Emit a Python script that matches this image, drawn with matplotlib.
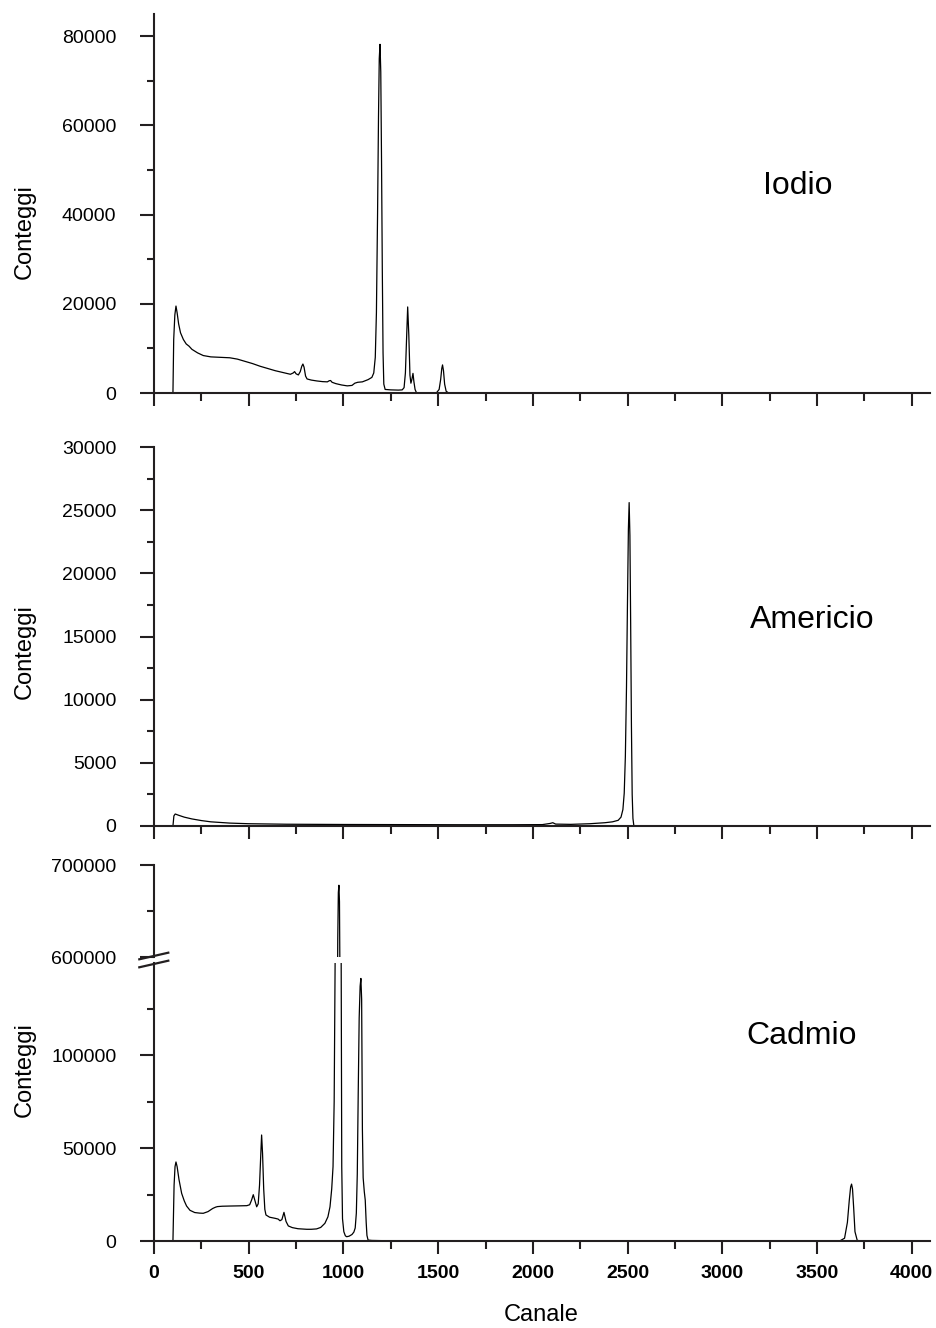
import matplotlib
matplotlib.use("Agg")
import matplotlib.pyplot as plt
from matplotlib.lines import Line2D
from matplotlib.ticker import MultipleLocator, FixedLocator

plt.rcParams['font.family'] = ['Liberation Sans', 'DejaVu Sans']

# --- spectra (channel, counts) ---
iodio_ch = [0, 100, 104, 110, 116, 122, 130, 140, 155, 170,
            185, 200, 230, 260, 300, 350, 400, 440, 480, 520,
            560, 600, 640, 680, 720, 735, 742, 750, 762, 772,
            780, 786, 792, 800, 808, 830, 860, 890, 915, 925,
            932, 940, 960, 990, 1020, 1045, 1060, 1075, 1100, 1130,
            1150, 1160, 1168, 1174, 1180, 1185, 1189, 1193, 1197, 1201,
            1205, 1209, 1213, 1220, 1250, 1290, 1310, 1320, 1327, 1333,
            1339, 1345, 1351, 1356, 1361, 1367, 1372, 1378, 1386, 1400,
            1490, 1505, 1513, 1519, 1523, 1528, 1534, 1542, 1555, 4096]
iodio_counts = [0, 0, 12000, 17500, 19500, 18000, 15500, 13500, 12000, 11000,
                10500, 9800, 9000, 8400, 8100, 8000, 7900, 7600, 7100, 6600,
                6000, 5500, 5000, 4600, 4200, 4500, 4800, 4300, 4050, 4800,
                6000, 6500, 5800, 3800, 3150, 2900, 2700, 2550, 2500, 2750,
                2800, 2400, 2100, 1800, 1600, 1700, 2200, 2400, 2500, 3000,
                3500, 4500, 8000, 18000, 40000, 62000, 75000, 78200, 72000, 52000,
                28000, 9000, 2000, 800, 700, 650, 700, 1200, 4500, 12000,
                19300, 13000, 4000, 2200, 3000, 4400, 2500, 800, 0, 0,
                0, 800, 3000, 5500, 6300, 5000, 2000, 400, 0, 0]

americio_ch = [0, 100, 105, 112, 130, 160, 200, 250, 300, 400,
               500, 700, 1000, 1300, 1600, 1900, 2050, 2090, 2105, 2120,
               2200, 2300, 2380, 2420, 2450, 2465, 2475, 2482, 2488, 2494,
               2499, 2504, 2508, 2512, 2516, 2520, 2524, 2528, 2533, 4096]
americio_counts = [0, 0, 800, 950, 850, 700, 560, 430, 330, 230,
                   180, 140, 120, 110, 100, 100, 110, 200, 260, 150,
                   130, 180, 260, 330, 450, 700, 1300, 2600, 5500, 11000,
                   17500, 23500, 25600, 23000, 16000, 8000, 2500, 600, 0, 0]

cadmio_ch = [0, 100, 106, 111, 116, 122, 132, 146, 160, 172,
             190, 215, 240, 260, 285, 310, 325, 335, 360, 400,
             450, 490, 505, 515, 524, 532, 542, 550, 557, 563,
             568, 573, 579, 585, 591, 610, 639, 655, 665, 675,
             686, 697, 709, 730, 760, 806, 830, 858, 880, 902,
             918, 929, 938, 945, 951, 956, 961, 966, 970, 973,
             976, 979, 982, 985, 988, 991, 995, 1002, 1010, 1017,
             1030, 1045, 1055, 1062, 1068, 1073, 1078, 1083, 1088, 1092,
             1096, 1100, 1104, 1110, 1115, 1120, 1124, 1130, 1150, 1200,
             1400, 1700, 1900, 2000, 3000, 3500, 3620, 3645, 3660, 3670,
             3677, 3682, 3687, 3693, 3700, 3712, 3740, 4096]
cadmio_counts = [0, 0, 30000, 40000, 42500, 40000, 33000, 25600, 21500, 18800,
                 16500, 15300, 15000, 14900, 15800, 17500, 18200, 18500, 18700, 18800,
                 18900, 19000, 19500, 22000, 24900, 22000, 18400, 20000, 30000, 45000,
                 57000, 47000, 28000, 17000, 14000, 12800, 12200, 11800, 10900, 11500,
                 15400, 10500, 8100, 7200, 6600, 6300, 6300, 6500, 7300, 9500,
                 13000, 18400, 28000, 40000, 75000, 150000, 300000, 480000, 620000, 670000,
                 678000, 660000, 560000, 380000, 150000, 40000, 12000, 5000, 2800, 2300,
                 2600, 3500, 4800, 7000, 15000, 36000, 80000, 120000, 137000, 141200,
                 130000, 60000, 34000, 26500, 22000, 10000, 3000, 500, 300, 200,
                 150, 120, 100, 80, 60, 50, 60, 1500, 10000, 22000,
                 29000, 30600, 28000, 18000, 5000, 300, 0, 0]

x_ticks = [0, 500, 1000, 1500, 2000, 2500, 3000, 3500, 4000]

W, H = 936, 1328
fig = plt.figure(figsize=(W / 100, H / 100), dpi=100)

def box(top, bottom):
    # pixel rows -> figure fraction rectangle
    return [154 / W, 1 - bottom / H, 776 / W, (bottom - top) / H]

ink = '#231f20'

def style(ax, show_bottom=True, xlabels=False):
    for s in ['top', 'right']:
        ax.spines[s].set_visible(False)
    ax.spines['left'].set_linewidth(1.5)
    ax.spines['left'].set_color(ink)
    ax.spines['bottom'].set_linewidth(1.5)
    ax.spines['bottom'].set_color(ink)
    ax.set_xlim(0, 4096)
    ax.xaxis.set_major_locator(FixedLocator(x_ticks))
    ax.xaxis.set_minor_locator(MultipleLocator(250))
    ax.tick_params(axis='y', which='major', direction='out', length=10, width=1.5,
                   color=ink, labelsize=14, pad=17)
    ax.tick_params(axis='y', which='minor', direction='out', length=5, width=1.5, color=ink)
    if show_bottom:
        ax.tick_params(axis='x', which='major', direction='out', length=9.5, width=1.5,
                       color=ink, labelsize=14, pad=8, labelbottom=xlabels)
        ax.tick_params(axis='x', which='minor', direction='out', length=5.5, width=1.5, color=ink)
    else:
        ax.spines['bottom'].set_visible(False)
        ax.tick_params(axis='x', which='both', bottom=False, labelbottom=False)
    if xlabels:
        for t in ax.get_xticklabels():
            t.set_fontweight('bold')

# Iodio
ax1 = fig.add_axes(box(14, 393))
ax1.plot(iodio_ch, iodio_counts, color='black', lw=0.9)
ax1.set_ylim(0, 85000)
ax1.yaxis.set_major_locator(FixedLocator([0, 20000, 40000, 60000, 80000]))
ax1.yaxis.set_minor_locator(FixedLocator([10000, 30000, 50000, 70000]))
style(ax1)
ax1.text(798 / W, 1 - 186 / H, 'Iodio', transform=fig.transFigure, fontsize=23,
         ha='center', va='center')

# Americio
ax2 = fig.add_axes(box(447, 826))
ax2.plot(americio_ch, americio_counts, color='black', lw=0.9)
ax2.set_ylim(0, 30000)
ax2.yaxis.set_major_locator(MultipleLocator(5000))
ax2.yaxis.set_minor_locator(MultipleLocator(2500))
style(ax2)
ax2.text(812 / W, 1 - 620 / H, 'Americio', transform=fig.transFigure, fontsize=23,
         ha='center', va='center')

# Cadmio, broken y axis
ax3u = fig.add_axes(box(865, 957))
ax3u.plot(cadmio_ch, cadmio_counts, color='black', lw=0.9)
ax3u.set_ylim(600000, 700000)
ax3u.yaxis.set_major_locator(FixedLocator([600000, 700000]))
ax3u.yaxis.set_minor_locator(FixedLocator([650000]))
style(ax3u, show_bottom=False)

ax3 = fig.add_axes(box(963, 1241))
ax3.plot(cadmio_ch, cadmio_counts, color='black', lw=0.9)
ax3.set_ylim(0, 149500)
ax3.yaxis.set_major_locator(FixedLocator([0, 50000, 100000]))
ax3.yaxis.set_minor_locator(FixedLocator([25000, 75000, 125000]))
style(ax3, xlabels=True)
ax3.text(802 / W, 1 - 1036 / H, 'Cadmio', transform=fig.transFigure, fontsize=23,
         ha='center', va='center')

# break marks on the left spine
for y0 in (959.3, 967.3):
    fig.add_artist(Line2D([139.3 / W, 168.3 / W], [1 - y0 / H, 1 - (y0 - 6.6) / H],
                          color=ink, lw=1.6, transform=fig.transFigure))

# axis labels
for yc in (232, 652, 1070):
    fig.text(25 / W, 1 - yc / H, 'Conteggi', rotation=90, fontsize=17,
             ha='center', va='center')
fig.text(541 / W, 1 - 1315 / H, 'Canale', fontsize=17, ha='center', va='center')

fig.savefig('out.png', dpi=100, facecolor='white')
